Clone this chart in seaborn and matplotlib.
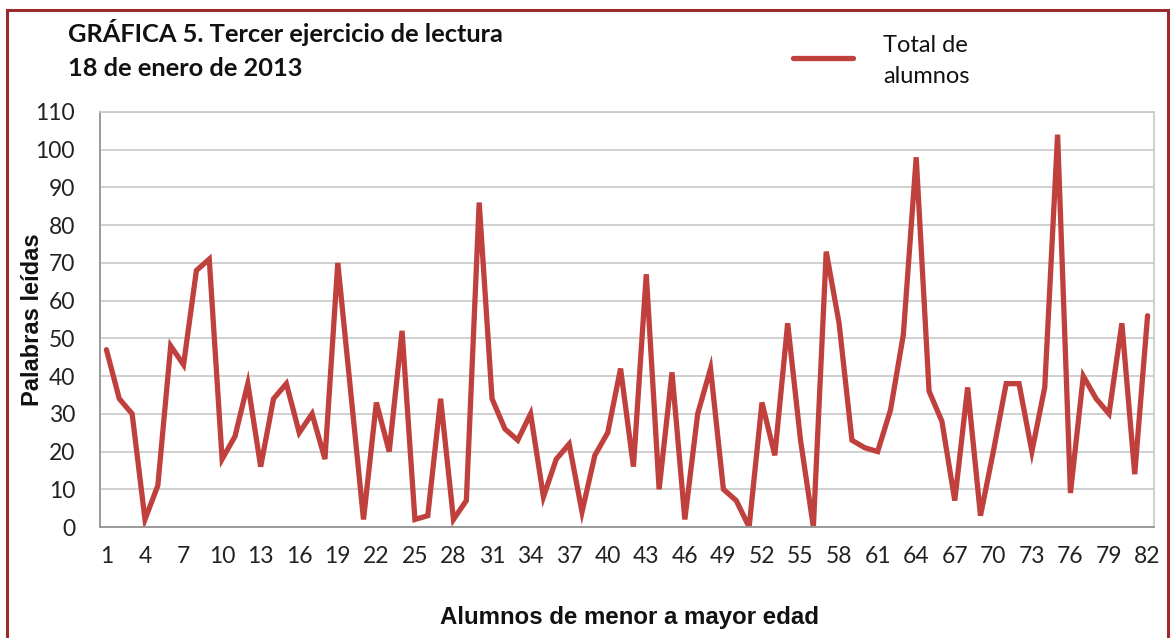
import matplotlib
matplotlib.use("Agg")
import matplotlib.pyplot as plt
import seaborn as sns
import pandas as pd
import numpy as np
from matplotlib.patches import Rectangle

students = list(range(1, 83))
palabras = [47, 34, 30, 2, 11, 48, 43, 68, 71, 18,
            24, 38, 16, 34, 38, 25, 30, 18, 70, 36,
            2, 33, 20, 52, 2, 3, 34, 2, 7, 86,
            34, 26, 23, 30, 8, 18, 22, 4, 19, 25,
            42, 16, 67, 10, 41, 2, 30, 42, 10, 7,
            0, 33, 19, 54, 23, 0, 73, 54, 23, 21,
            20, 31, 51, 98, 36, 28, 7, 37, 3, 20,
            38, 38, 20, 37, 104, 9, 40, 34, 30, 54,
            14, 56]
x_tick_labels = [str(s) for s in students[::3]]
y_ticks = list(range(0, 111, 10))

title_lines = ["GRÁFICA 5. Tercer ejercicio de lectura", "18 de enero de 2013"]
series_name = "Total de\nalumnos"
x_label = "Alumnos de menor a mayor edad"
y_label = "Palabras leídas"

sns.set_theme(style="white")
plt.rcParams['font.family'] = ['Lato', 'DejaVu Sans']

df = pd.DataFrame({"pos": np.arange(len(students)), "val": palabras})

fig = plt.figure(figsize=(11.72, 6.38), dpi=100)
ax = fig.add_axes([100/1172, 1-527/638, (1154-100)/1172, (527-112)/638])

red = "#C0403D"
sns.lineplot(data=df, x="pos", y="val", ax=ax, color=red, linewidth=3.8,
             solid_joinstyle="miter", solid_capstyle="round", legend=False)

ax.set_xlim(-0.5, len(students) - 0.5)
ax.set_ylim(0, 110)
ax.set_yticks(y_ticks)
ax.set_yticklabels([str(v) for v in y_ticks], fontsize=16.5, color="#222222")
ax.set_xticks(np.arange(0, len(students), 3))
ax.set_xticklabels(x_tick_labels, fontsize=16.5, color="#222222")
ax.set_xticks(np.arange(-0.5, len(students), 1), minor=True)
ax.tick_params(axis="x", which="major", length=0, pad=14)
ax.tick_params(axis="x", which="minor", length=6, width=1.2, color="#999999", direction="out")
ax.tick_params(axis="y", which="major", length=6, width=1.2, color="#999999", direction="out", pad=12)
ax.yaxis.grid(True, color="#C8C8C8", linewidth=1.2)
ax.set_axisbelow(True)
for side in ["left", "bottom"]:
    ax.spines[side].set_color("#999999")
    ax.spines[side].set_linewidth(1.4)
for side in ["top", "right"]:
    ax.spines[side].set_color("#C8C8C8")
    ax.spines[side].set_linewidth(1.2)

ax.set_xlabel(x_label, fontsize=17.3, fontweight="bold", family=["Liberation Sans", "DejaVu Sans"],
              color="#111111")
ax.set_ylabel(y_label, fontsize=17, fontweight="bold", family=["Liberation Sans", "DejaVu Sans"],
              color="#111111")
ax.xaxis.set_label_coords(0.5 + 2/1054, (527-606)/(527-112))
ax.yaxis.set_label_coords((44-100)/(1154-100), 0.5)

fig.text(68/1172, 1-32/638, title_lines[0], fontsize=18.3, fontweight="bold",
         va="center", ha="left", color="#111111")
fig.text(68/1172, 1-68/638, title_lines[1], fontsize=18.3, fontweight="bold",
         va="center", ha="left", color="#111111")

# legend
fig.lines.append(plt.Line2D([793/1172, 853/1172], [1-58/638, 1-58/638],
                            transform=fig.transFigure, color=red, linewidth=3.8))
fig.text(883/1172, 1-61/638, series_name, fontsize=17, va="center", ha="left",
         color="#111111", linespacing=1.55)

# outer frame
fig.patches.append(Rectangle((7/1172, -0.05), (1168-7)/1172, 1-10/638 + 0.05,
                             transform=fig.transFigure, fill=False,
                             edgecolor="#9B2B2B", linewidth=2.2))

fig.savefig("out.png", dpi=100)
